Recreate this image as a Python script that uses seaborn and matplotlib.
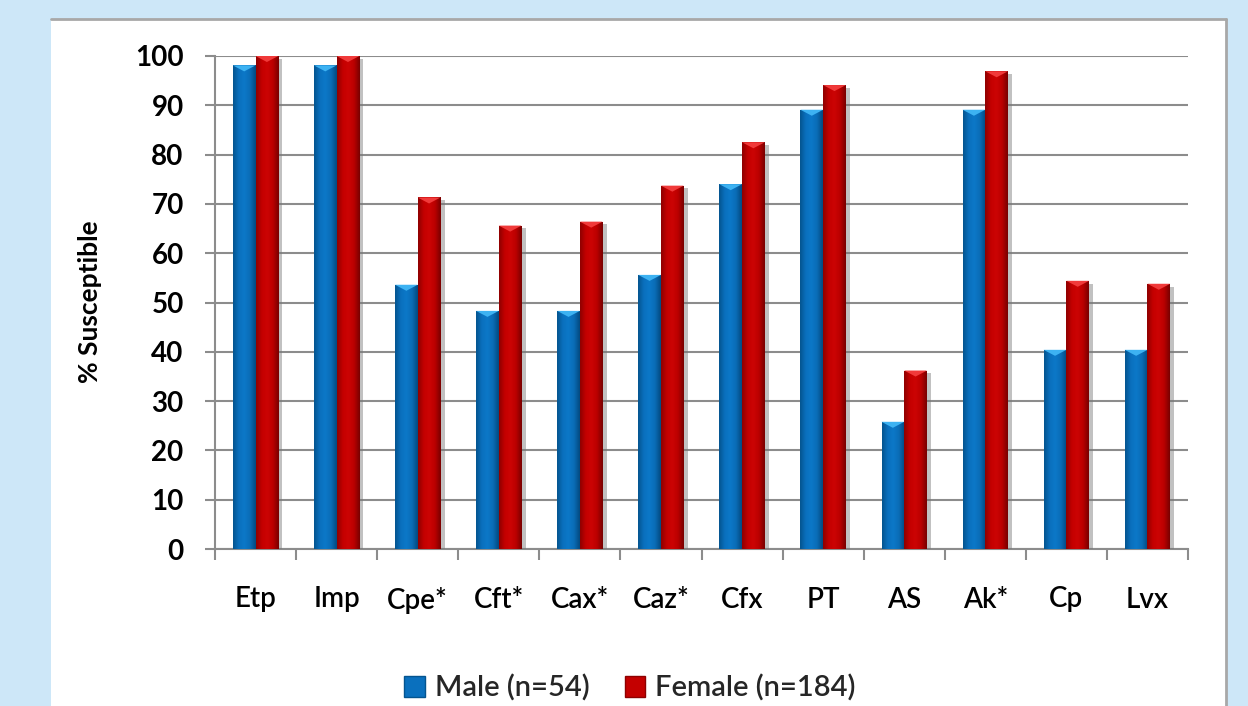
import numpy as np
import pandas as pd
import matplotlib
matplotlib.use("Agg")
import matplotlib.pyplot as plt
import matplotlib.patheffects as pe
from matplotlib.patches import Rectangle, Polygon, Patch
from matplotlib.lines import Line2D
from matplotlib.colors import LinearSegmentedColormap
import seaborn as sns

# Susceptibility (%) by antibiotic and patient sex
antibiotics = ["Etp", "Imp", "Cpe*", "Cft*", "Cax*", "Caz*", "Cfx", "PT", "AS", "Ak*", "Cp", "Lvx"]
male_pct = [98.1, 98.1, 53.6, 48.3, 48.3, 55.6, 74.0, 89.1, 25.8, 89.1, 40.4, 40.4]
female_pct = [100.0, 100.0, 71.3, 65.6, 66.4, 73.7, 82.5, 94.1, 36.2, 96.9, 54.4, 53.8]
groups = ["Male (n=54)", "Female (n=184)"]
y_ticks = list(range(0, 101, 10))

df = pd.DataFrame({
    "antibiotic": antibiotics * 2,
    "group": [groups[0]] * len(antibiotics) + [groups[1]] * len(antibiotics),
    "pct": male_pct + female_pct,
})

sns.set_theme(style="white")
plt.rcParams["font.family"] = ["Lato", "DejaVu Sans"]

W, H = 1248, 706
BG = "#CDE7F8"
GRID = "#8C8C8C"
BLUE, RED = "#0A70BE", "#C40000"
shades = {
    BLUE: ["#04548F", "#0A70BE", "#0C78C8", "#0A6CB6", "#034A80"],
    RED: ["#8E0000", "#C40000", "#CC0404", "#BA0000", "#780000"],
}
caps = {BLUE: "#3DB2F2", RED: "#F03A3A"}

fig = plt.figure(figsize=(W / 100, H / 100), dpi=100, facecolor=BG)

# white chart panel with a grey rim on the top and right
fig.patches.append(Rectangle((51 / W, -0.05), (1226 - 51) / W, 1.05 - 19 / H,
                             transform=fig.transFigure, facecolor="white",
                             edgecolor="none", zorder=-2))
fig.add_artist(Line2D([51 / W, 1226 / W], [1 - 19 / H, 1 - 19 / H],
                      transform=fig.transFigure, color="#A8A8A8", lw=2, zorder=-1))
fig.add_artist(Line2D([1226 / W, 1226 / W], [1 - 19 / H, 0],
                      transform=fig.transFigure, color="#A8A8A8", lw=2, zorder=-1))

ax = fig.add_axes([215 / W, (H - 549) / H, (1188 - 215) / W, (549 - 56) / H])
ax.set_facecolor("none")

sns.barplot(data=df, x="antibiotic", y="pct", hue="group", order=antibiotics,
            hue_order=groups, palette=[BLUE, RED], width=0.56, saturation=1,
            legend=False, ax=ax, zorder=3)

ax.set_ylim(0, 100)
ax.set_xlim(-0.5, len(antibiotics) - 0.5)
fig.canvas.draw()
px_per_unit = ax.get_window_extent().height / 100.0

# shade each bar: side gradient, bevelled top and a soft shadow
for bar in list(ax.patches):
    base = matplotlib.colors.to_hex(bar.get_facecolor())
    key = BLUE if base.lower() == BLUE.lower() else RED
    x0, y0 = bar.get_x(), bar.get_y()
    w, h = bar.get_width(), bar.get_height()
    bar.set_edgecolor("none")
    bar.set_path_effects([pe.SimplePatchShadow(offset=(3, -2), shadow_rgbFace="#777777", alpha=0.45),
                          pe.Normal()])
    cmap = LinearSegmentedColormap.from_list("side", shades[key])
    grad = np.linspace(0, 1, 64).reshape(1, -1)
    im = ax.imshow(grad, extent=(x0, x0 + w, y0, y0 + h), aspect="auto",
                   cmap=cmap, zorder=3.5, interpolation="bicubic")
    im.set_clip_path(bar)
    d = 6 / px_per_unit
    top = y0 + h
    ax.add_patch(Polygon([(x0, top), (x0 + w, top), (x0 + w / 2, top - d)],
                         closed=True, facecolor=caps[key], edgecolor="none",
                         zorder=3.6))

ax.set_ylim(0, 100)
ax.set_xlim(-0.5, len(antibiotics) - 0.5)
ax.set_yticks(y_ticks)
ax.set_yticklabels([str(v) for v in y_ticks], fontsize=20, fontweight="bold")
ax.grid(axis="y", color=GRID, lw=1.5, zorder=0)
ax.grid(axis="x", visible=False)
for side in ("top", "right"):
    ax.spines[side].set_visible(False)
for side in ("left", "bottom"):
    ax.spines[side].set_color(GRID)
    ax.spines[side].set_linewidth(1.5)
ax.tick_params(axis="y", which="major", length=7.5, width=1.5, color=GRID,
               direction="out", pad=15, left=True, labelcolor="black")
ax.set_xticks(range(len(antibiotics)))
ax.set_xticklabels(antibiotics, fontsize=20, fontweight=600)
ax.set_xticks(np.arange(-0.5, len(antibiotics), 1.0), minor=True)
ax.tick_params(axis="x", which="major", length=0, pad=27, labelcolor="black")
ax.tick_params(axis="x", which="minor", length=8, width=1.5, color=GRID,
               direction="out", bottom=True)
ax.set_xlabel("")
ax.set_ylabel("")

fig.text(90 / W, 1 - 302 / H, "% Susceptible", rotation=90, ha="center",
         va="center", fontsize=19, fontweight="bold", color="black")

handles = [Patch(facecolor=BLUE, edgecolor="#04548F"),
           Patch(facecolor=RED, edgecolor="#8E0000")]
fig.legend(handles, groups, loc="center", bbox_to_anchor=(630 / W, 1 - 688 / H),
           ncol=2, frameon=False, handlelength=0.7, handleheight=0.7,
           handletextpad=0.35, columnspacing=1.2, borderpad=0,
           prop={"size": 21, "weight": 600})

fig.savefig("out.png", dpi=100, facecolor=BG)
